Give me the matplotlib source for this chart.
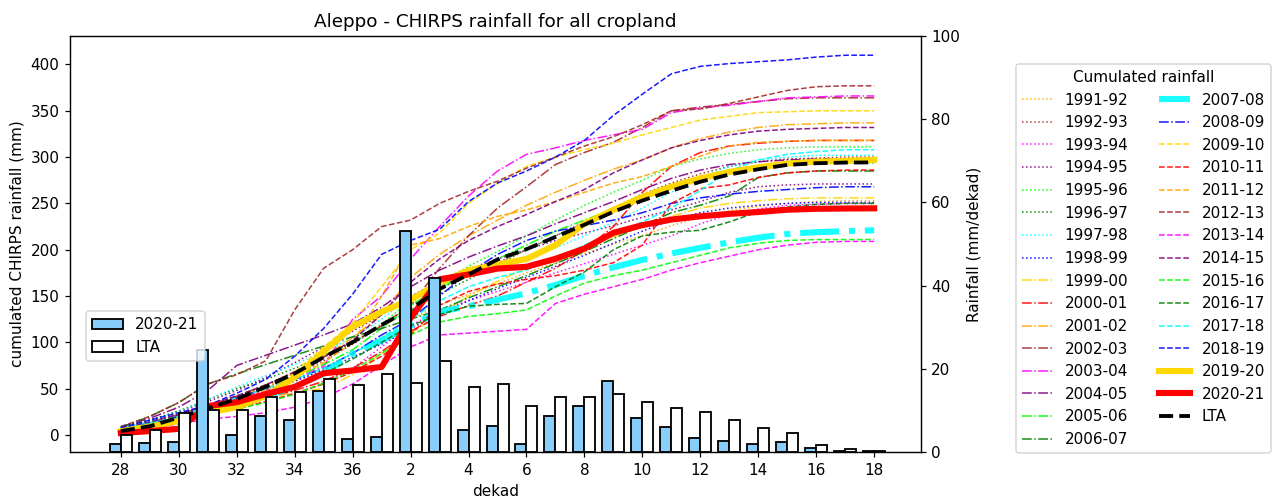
import numpy as np
import matplotlib
matplotlib.use("Agg")
import matplotlib.pyplot as plt

# dekads of the season, Sept (28) to June (18)
dekads = [28, 29, 30, 31, 32, 33, 34, 35, 36, 1, 2, 3, 4, 5, 6, 7, 8, 9, 10,
          11, 12, 13, 14, 15, 16, 17, 18]

# rainfall per dekad (mm)
rain_2021 = [2.0, 2.2, 2.4, 24.6, 4.2, 8.7, 7.8, 14.7, 3.1, 3.7, 53.0, 41.7, 5.2,
             6.3, 2.0, 8.6, 11.1, 17.0, 8.2, 6.1, 3.5, 2.6, 2.0, 2.5, 1.0, 0.3, 0.2]
rain_lta = [4.2, 5.2, 9.4, 10.0, 10.0, 13.2, 14.4, 17.5, 16.2, 18.8, 16.7, 22.0, 15.6,
            16.3, 11.1, 13.2, 13.2, 14.0, 12.1, 10.6, 9.7, 7.8, 5.7, 4.7, 1.8, 0.7, 0.2]

# cumulated rainfall of past seasons (mm)
c1991 = [6, 12, 20, 28, 36, 46, 58, 72, 88, 105, 125, 140, 152, 163, 175, 186, 196, 206, 215, 226, 235, 242, 247, 250, 252, 253, 253]
c1992 = [7, 14, 22, 32, 42, 52, 64, 80, 98, 118, 140, 158, 172, 186, 200, 215, 230, 245, 260, 272, 282, 290, 295, 298, 299, 300, 300]
c1993 = [4, 9, 16, 24, 30, 36, 44, 56, 72, 95, 118, 135, 145, 155, 165, 175, 185, 195, 205, 215, 228, 238, 244, 248, 249, 250, 250]
c1994 = [8, 16, 25, 36, 48, 62, 78, 95, 112, 130, 150, 165, 178, 190, 200, 210, 218, 226, 235, 243, 252, 262, 268, 270, 271, 271, 271]
c1995 = [6, 13, 22, 32, 42, 54, 68, 84, 100, 120, 145, 165, 182, 198, 215, 232, 248, 262, 275, 290, 298, 304, 308, 310, 311, 311, 311]
c1996 = [8, 16, 26, 38, 50, 60, 72, 86, 100, 117, 135, 152, 168, 184, 200, 215, 228, 242, 255, 268, 278, 285, 290, 293, 294, 294, 294]
c1997 = [7, 15, 25, 38, 52, 64, 76, 90, 105, 125, 150, 162, 172, 181, 190, 202, 215, 230, 245, 262, 278, 290, 297, 300, 302, 302, 302]
c1998 = [5, 11, 19, 28, 37, 47, 58, 70, 84, 98, 115, 130, 145, 158, 170, 182, 194, 207, 220, 232, 240, 245, 248, 250, 251, 251, 251]
c1999 = [4, 10, 17, 25, 33, 40, 46, 50, 65, 88, 110, 130, 150, 166, 180, 192, 203, 214, 225, 236, 245, 250, 253, 255, 256, 256, 256]
c2000 = [5, 10, 17, 25, 33, 40, 48, 58, 72, 90, 112, 128, 140, 150, 165, 180, 200, 225, 262, 290, 305, 312, 315, 317, 318, 318, 318]
c2001 = [6, 12, 20, 30, 40, 52, 66, 85, 105, 130, 170, 195, 215, 232, 248, 262, 275, 287, 297, 310, 320, 327, 332, 335, 336, 337, 337]
c2002 = [7, 14, 22, 32, 42, 54, 68, 84, 100, 118, 140, 180, 215, 245, 268, 292, 305, 316, 332, 350, 354, 357, 360, 363, 364, 364, 364]
c2003 = [5, 11, 18, 28, 38, 48, 60, 74, 125, 150, 190, 225, 258, 285, 303, 310, 318, 324, 330, 348, 353, 356, 360, 364, 365, 366, 366]
c2004 = [9, 18, 30, 48, 75, 86, 97, 108, 120, 138, 160, 178, 192, 204, 215, 228, 240, 252, 265, 277, 286, 292, 295, 297, 298, 298, 298]
c2005 = [6, 12, 20, 30, 40, 50, 62, 76, 92, 115, 140, 158, 175, 190, 205, 220, 232, 244, 255, 268, 278, 286, 290, 293, 294, 294, 294]
c2006 = [8, 20, 35, 55, 66, 76, 86, 96, 106, 115, 125, 135, 148, 160, 172, 185, 198, 212, 226, 240, 248, 258, 278, 283, 285, 285, 285]
c2007 = [5, 11, 18, 26, 34, 42, 52, 66, 88, 102, 118, 133, 139, 146, 153, 162, 172, 181, 189, 196, 202, 208, 213, 217, 219, 220, 221]
c2008 = [6, 12, 20, 30, 40, 50, 60, 72, 88, 108, 125, 150, 175, 195, 210, 220, 226, 232, 240, 250, 256, 260, 263, 265, 267, 268, 268]
c2009 = [5, 11, 18, 26, 35, 48, 68, 95, 121, 160, 200, 218, 250, 272, 290, 300, 308, 315, 324, 332, 340, 344, 348, 349, 350, 350, 350]
c2010 = [4, 9, 15, 22, 28, 36, 45, 55, 68, 85, 108, 140, 155, 163, 168, 172, 178, 186, 205, 250, 266, 270, 278, 283, 285, 286, 286]
c2011 = [6, 12, 20, 30, 40, 50, 62, 78, 100, 150, 205, 212, 225, 236, 243, 252, 262, 272, 279, 290, 301, 312, 316, 317, 318, 318, 318]
c2012 = [9, 20, 35, 55, 65, 80, 135, 180, 200, 225, 232, 250, 263, 274, 288, 300, 312, 322, 335, 350, 352, 358, 365, 372, 376, 377, 377]
c2013 = [3, 7, 12, 17, 20, 24, 30, 40, 55, 75, 95, 108, 110, 112, 114, 142, 152, 160, 168, 178, 186, 193, 200, 205, 208, 209, 209]
c2014 = [7, 14, 22, 32, 42, 54, 68, 84, 102, 130, 165, 190, 210, 225, 238, 252, 265, 283, 297, 310, 318, 324, 328, 330, 331, 332, 332]
c2015 = [4, 9, 15, 22, 28, 35, 44, 56, 70, 88, 108, 122, 128, 131, 135, 150, 164, 172, 178, 186, 194, 202, 207, 210, 211, 211, 211]
c2016 = [6, 12, 20, 28, 36, 44, 54, 66, 82, 100, 118, 130, 139, 141, 142, 160, 176, 200, 215, 219, 221, 230, 241, 246, 249, 250, 250]
c2017 = [6, 12, 20, 30, 40, 50, 60, 72, 88, 105, 125, 145, 160, 170, 178, 190, 205, 218, 230, 245, 264, 285, 297, 303, 306, 308, 308]
c2018 = [8, 16, 24, 32, 45, 60, 85, 115, 152, 195, 210, 222, 252, 272, 285, 300, 318, 345, 368, 390, 398, 401, 403, 405, 408, 410, 410]
c2019 = [4, 9, 15, 24, 30, 42, 62, 90, 117, 133, 146, 164, 178, 184, 190, 205, 228, 243, 257, 268, 277, 284, 289, 293, 295, 296, 297]

past = [c1991, c1992, c1993, c1994, c1995, c1996, c1997, c1998, c1999, c2000,
        c2001, c2002, c2003, c2004, c2005, c2006, c2007, c2008, c2009, c2010,
        c2011, c2012, c2013, c2014, c2015, c2016, c2017, c2018, c2019]
seasons = ['%d-%02d' % (y, (y + 1) % 100) for y in range(1991, 2020)]

colors = ['gold', 'red', 'orange', 'brown', 'magenta', 'purple', 'lime', 'green', 'cyan', 'blue']

x = np.arange(len(dekads))

# original was rendered at 110 dpi, so keep that scale for text and lines
fig = plt.figure(figsize=(1275 / 110, 504 / 110), dpi=110)
ax1 = fig.add_axes([0.055, 0.103, 0.667, 0.826])
ax2 = ax1.twinx()

for i, (s, vals) in enumerate(zip(seasons, past)):
    k = i + 2
    c = colors[k % 10]
    if s == '2019-20':
        ax1.plot(x, vals, color='gold', lw=4, label=s)
        continue
    if k < 10:
        ls = ':'
    elif k < 20:
        ls = '-.'
    else:
        ls = '--'
    lw = 4 if s == '2007-08' else 1
    ax1.plot(x, vals, color=c, ls=ls, lw=lw, alpha=0.9, label=s)

ax1.plot(x, np.cumsum(rain_2021), color='red', lw=4, label='2020-21')
ax1.plot(x, np.cumsum(rain_lta), color='black', ls='--', lw=2.5, label='LTA')

w = 0.38
ax2.bar(x - w / 2, rain_2021, width=w, color='lightskyblue', edgecolor='black', lw=1.2, label='2020-21')
ax2.bar(x + w / 2, rain_lta, width=w, color='white', edgecolor='black', lw=1.2, label='LTA')

ax1.set_xlim(-1.75, 27.6)
ax1.set_ylim(-18.5, 431)
ax1.set_yticks(np.arange(0, 401, 50))
ax2.set_ylim(0, 100)
ax1.set_xticks(x[::2])
ax1.set_xticklabels(dekads[::2])

ax1.set_title('Aleppo - CHIRPS rainfall for all cropland')
ax1.set_xlabel('dekad')
ax1.set_ylabel('cumulated CHIRPS rainfall (mm)')
ax2.set_ylabel('Rainfall (mm/dekad)')

ax1.legend(title='Cumulated rainfall', ncol=2, loc='center left',
           bbox_to_anchor=(1.112, 0.465), borderaxespad=0)
ax2.legend(loc='lower left', bbox_to_anchor=(0.01, 0.2))

fig.savefig('out.png', dpi=110)
